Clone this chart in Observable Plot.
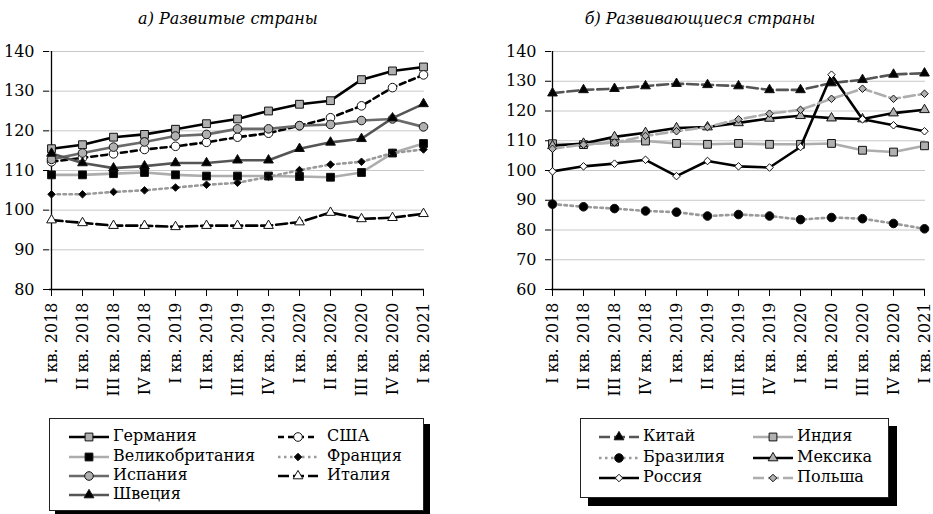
<!DOCTYPE html>
<html><head><meta charset="utf-8">
<script src="https://cdn.jsdelivr.net/npm/d3@7"></script>
<script src="https://cdn.jsdelivr.net/npm/@observablehq/plot@0.6"></script>
<style>
body{margin:0;background:#fff;font-family:"DejaVu Serif",serif;color:#000;}
#wrap{position:relative;width:933px;height:514px;overflow:hidden;background:#fff;}
.title{position:absolute;top:9px;font-style:italic;font-size:16px;white-space:nowrap;transform:translateX(-50%);}
.chart{position:absolute;top:0;}
.legend{position:absolute;background:#fff;border:1px solid #222;box-sizing:border-box;}
.item{position:absolute;font-size:16px;white-space:nowrap;line-height:18px;}
.sw{position:absolute;}
</style></head>
<body><div id="wrap"></div>
<script>
// ---- data ----
const quarters = ["I кв. 2018","II кв. 2018","III кв. 2018","IV кв. 2018",
  "I кв. 2019","II кв. 2019","III кв. 2019","IV кв. 2019",
  "I кв. 2020","II кв. 2020","III кв. 2020","IV кв. 2020","I кв. 2021"];

const titleLeft = "а) Развитые страны";
const titleRight = "б) Развивающиеся страны";

const germany = [115.5,116.5,118.4,119.1,120.4,121.8,123.0,125.0,126.7,127.6,132.9,135.1,136.1];
const usa     = [112.2,113.2,114.2,115.3,116.1,117.1,118.4,119.4,121.3,123.3,126.3,130.9,134.1];
const uk      = [108.9,108.9,109.2,109.5,108.9,108.6,108.6,108.6,108.5,108.3,109.5,114.4,116.8];
const france  = [104.0,104.0,104.6,105.0,105.7,106.4,106.9,108.4,110.1,111.5,112.2,114.4,115.3];
const spain   = [112.8,114.4,115.9,117.2,118.7,119.1,120.5,120.5,121.3,121.6,122.6,123.0,121.0];
const italy   = [97.5,96.8,96.1,96.1,95.8,96.1,96.1,96.1,97.0,99.4,97.8,98.1,99.1];
const sweden  = [114.3,111.9,110.6,111.1,111.9,111.9,112.6,112.6,115.5,117.1,118.0,123.2,126.8];

const china  = [126.0,127.1,127.5,128.4,129.2,128.8,128.4,127.1,127.1,129.4,130.5,132.3,132.7];
const india  = [109.0,108.7,109.6,109.9,109.1,108.8,109.1,108.8,108.8,109.1,106.8,106.2,108.3];
const brazil = [88.7,87.8,87.2,86.4,86.0,84.7,85.2,84.7,83.5,84.2,83.8,82.2,80.4];
const mexico = [108.3,109.1,111.3,112.7,114.3,114.6,116.0,117.5,118.4,117.6,117.3,119.3,120.4];
const russia = [99.7,101.4,102.3,103.6,98.1,103.2,101.4,101.0,107.9,132.2,117.2,115.2,113.2];
const poland = [107.3,108.7,109.4,111.6,113.2,114.6,117.2,119.1,120.4,124.1,127.5,124.1,125.8];

const leftTicks = [80,90,100,110,120,130,140];
const rightTicks = [60,70,80,90,100,110,120,130,140];

// ---- styles ----
const LONG = "11,4", SHORT = "6,4", DOT = "2.5,3.5";
const leftSeries = [
  {name:"Германия", values:germany, stroke:"#000", dash:null, symbol:"square", fill:"#b0b0b0", r:4.4},
  {name:"США", values:usa, stroke:"#000", dash:SHORT, symbol:"circle", fill:"#fff", r:4.3},
  {name:"Великобритания", values:uk, stroke:"#adadad", dash:null, symbol:"square", fill:"#000", r:4.4},
  {name:"Франция", values:france, stroke:"#9a9a9a", dash:DOT, symbol:"diamond2", fill:"#000", r:3.4},
  {name:"Испания", values:spain, stroke:"#6a6a6a", dash:null, symbol:"circle", fill:"#b0b0b0", r:4.3},
  {name:"Италия", values:italy, stroke:"#000", dash:LONG, symbol:"triangle", fill:"#fff", r:3.6},
  {name:"Швеция", values:sweden, stroke:"#555", dash:null, symbol:"triangle", fill:"#000", r:3.6}
];
const rightSeries = [
  {name:"Китай", values:china, stroke:"#555", dash:LONG, symbol:"triangle", fill:"#000", r:3.6},
  {name:"Индия", values:india, stroke:"#adadad", dash:null, symbol:"square", fill:"#b0b0b0", r:4.4},
  {name:"Бразилия", values:brazil, stroke:"#9a9a9a", dash:DOT, symbol:"circle", fill:"#000", r:4.3},
  {name:"Мексика", values:mexico, stroke:"#000", dash:null, symbol:"triangle", fill:"#b0b0b0", r:3.6},
  {name:"Россия", values:russia, stroke:"#000", dash:null, symbol:"diamond2", fill:"#fff", r:3.4},
  {name:"Польша", values:poland, stroke:"#adadad", dash:LONG, symbol:"diamond2", fill:"#b0b0b0", r:3.4}
];

function chart(series, {width, marginLeft, marginRight, ticks}) {
  const yDomain = [ticks[0], ticks[ticks.length-1]];
  const marks = [
    Plot.gridY(ticks, {stroke:"#c8c8c8", strokeOpacity:1, strokeWidth:1}),
    Plot.ruleY([yDomain[0]], {stroke:"#000", strokeWidth:1.3}),
    Plot.ruleX([quarters[0]], {stroke:"#000", strokeWidth:1.3}),
    Plot.axisY(ticks, {tickSize:6, tickPadding:9, fontSize:16, stroke:"#000"}),
    Plot.axisX({tickSize:7, tickRotate:-90, tickPadding:6, fontSize:16, stroke:"#000"})
  ];
  for (const s of series) {
    const d = s.values.map((v,i)=>({q:quarters[i], v}));
    marks.push(Plot.line(d, {x:"q", y:"v", stroke:s.stroke, strokeWidth:2.6, strokeDasharray:s.dash}));
    marks.push(Plot.dot(d, {x:"q", y:"v", symbol:s.symbol, r:s.r, fill:s.fill, stroke:"#111", strokeWidth:1}));
  }
  return Plot.plot({
    width, height:410, marginTop:51, marginBottom:121, marginLeft, marginRight,
    x:{type:"point", domain:quarters, padding:0, label:null, axis:null},
    y:{domain:yDomain, label:null, axis:null},
    style:{fontFamily:"DejaVu Serif", fontSize:"16px", color:"#000", background:"transparent", overflow:"visible"},
    marks
  });
}

const wrap = document.getElementById("wrap");
function place(el, left, cls) { el.classList.add(cls); el.style.left = left + "px"; wrap.appendChild(el); }

place(chart(leftSeries, {width:440, marginLeft:49, marginRight:16, ticks:leftTicks}), 0, "chart");
place(chart(rightSeries, {width:453, marginLeft:71, marginRight:8, ticks:rightTicks}), 480, "chart");

function title(text, cx) {
  const t = document.createElement("div"); t.className = "title"; t.textContent = text;
  t.style.left = cx + "px"; wrap.appendChild(t);
}
title(titleLeft, 228);
title(titleRight, 700);

function swatch(s) {
  const w = 42, h = 18;
  const svg = d3.create("svg").attr("width", w).attr("height", h);
  svg.append("line").attr("x1",1).attr("x2",w-1).attr("y1",h/2).attr("y2",h/2)
    .attr("stroke", s.stroke).attr("stroke-width", 2.6).attr("stroke-dasharray", s.dash);
  const sym = {square:d3.symbolSquare, circle:d3.symbolCircle, triangle:d3.symbolTriangle, diamond2:d3.symbolDiamond2}[s.symbol];
  svg.append("path").attr("d", d3.symbol(sym, Math.PI*s.r*s.r)())
    .attr("transform", `translate(${w/2},${h/2})`).attr("fill", s.fill).attr("stroke","#111");
  return svg.node();
}

function legend(series, {left, top, width, height, shadow, cols, rows}) {
  const box = document.createElement("div"); box.className = "legend";
  Object.assign(box.style, {left:left+"px", top:top+"px", width:width+"px", height:height+"px",
    boxShadow:`${shadow}px ${shadow}px 0 #000`});
  series.forEach((s, i) => {
    const c = i % 2, r = Math.floor(i / 2);
    const sw = swatch(s); sw.classList.add("sw");
    sw.style.left = cols[c][0] + "px"; sw.style.top = (rows[r] - 9) + "px";
    box.appendChild(sw);
    const tx = document.createElement("div"); tx.className = "item"; tx.textContent = s.name;
    tx.style.left = cols[c][1] + "px"; tx.style.top = (rows[r] - 10) + "px";
    box.appendChild(tx);
  });
  wrap.appendChild(box);
}
legend(leftSeries, {left:49, top:418, width:375, height:93, shadow:6,
  cols:[[18,63],[227,277]], rows:[18,38,57,76]});
legend(rightSeries, {left:580, top:418, width:309, height:80, shadow:8,
  cols:[[17,62],[171,216]], rows:[18,39,59]});
</script></body></html>
